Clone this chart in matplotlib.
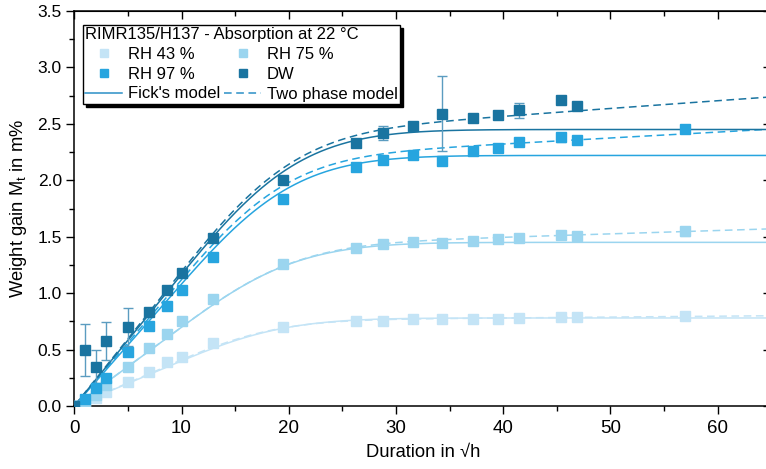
import numpy as np
import matplotlib
matplotlib.use("Agg")
import matplotlib.pyplot as plt
from matplotlib.ticker import MultipleLocator, FormatStrFormatter
from matplotlib.lines import Line2D

plt.rcParams['font.family'] = ['Liberation Sans', 'DejaVu Sans']
plt.rcParams['mathtext.fontset'] = 'custom'
plt.rcParams['mathtext.rm'] = 'Liberation Sans'
plt.rcParams['mathtext.it'] = 'Liberation Sans'

# Measurement times (square root of hours)
duration = [0, 1, 2, 3, 5, 7, 8.65, 10, 12.9, 19.5, 26.3, 28.8, 31.6, 34.3,
            37.2, 39.5, 41.5, 45.4, 46.9, 57.0]

labels = ["RH 43 %", "RH 75 %", "RH 97 %", "DW"]
colors = ["#c4e4f6", "#9bd5ef", "#27a5df", "#1a74a0"]
err_colors = ["#d2ebf8", "#b3def2", "#5fb9e4", "#5b9cc0"]

gain_rh43 = [0, 0.02, 0.07, 0.12, 0.215, 0.30, 0.39, 0.43, 0.555, 0.70, 0.75,
             0.755, 0.77, 0.77, 0.77, 0.775, 0.78, 0.79, 0.785, 0.80]
gain_rh75 = [0, 0.03, 0.10, 0.19, 0.35, 0.51, 0.64, 0.75, 0.95, 1.26, 1.40,
             1.435, 1.455, 1.44, 1.465, 1.48, 1.49, 1.515, 1.51, 1.55]
gain_rh97 = [0, 0.06, 0.16, 0.25, 0.48, 0.71, 0.885, 1.03, 1.32, 1.83, 2.12,
             2.18, 2.22, 2.17, 2.26, 2.29, 2.34, 2.38, 2.36, 2.45]
gain_dw = [0, 0.50, 0.35, 0.575, 0.70, 0.83, 1.03, 1.18, 1.49, 2.00, 2.33,
           2.42, 2.48, 2.59, 2.55, 2.58, 2.62, 2.71, 2.66, np.nan]

err_rh43 = [0, 0.01, 0.01, 0.01, 0.01, 0.01, 0.01, 0.01, 0.01, 0.01, 0.01,
            0.01, 0.01, 0.01, 0.01, 0.01, 0.01, 0.01, 0.01, 0.01]
err_rh75 = [0, 0.02, 0.02, 0.02, 0.02, 0.02, 0.02, 0.02, 0.02, 0.02, 0.03,
            0.03, 0.02, 0.03, 0.03, 0.02, 0.03, 0.03, 0.03, 0.04]
err_rh97 = [0, 0.02, 0.02, 0.02, 0.02, 0.02, 0.02, 0.02, 0.02, 0.02, 0.02,
            0.02, 0.02, 0.02, 0.02, 0.02, 0.02, 0.04, 0.02, 0.02]
err_dw = [0, 0.23, 0.15, 0.17, 0.17, 0.02, 0.02, 0.03, 0.02, 0.02, 0.02,
          0.06, 0.02, 0.33, 0.02, 0.02, 0.065, 0.02, 0.02, 0]

gains = [gain_rh43, gain_rh75, gain_rh97, gain_dw]
errors = [err_rh43, err_rh75, err_rh97, err_dw]

# Fick's model: saturation uptake and rate constant (pi^2 D / h^2, per h)
fick_minf = [0.78, 1.45, 2.22, 2.45]
fick_k = [0.0051, 0.0045, 0.0046, 0.0044]

# Two phase model: fast Fickian phase plus slow second phase
tp_m1 = [0.748, 1.375, 2.11, 2.29]
tp_k1 = [0.0056, 0.0046, 0.00496, 0.00466]
tp_m2 = [0.10, 0.35, 0.60, 0.78]
tp_k2 = [0.000123, 0.000143, 0.000151, 0.000153]


def fick_fraction(kt, terms=200):
    n = np.arange(terms)[:, None]
    odd = 2 * n + 1
    s = np.sum(np.exp(-odd ** 2 * kt[None, :]) / odd ** 2, axis=0)
    return 1 - 8 / np.pi ** 2 * s


fig = plt.figure(figsize=(7.66, 4.69), dpi=100)
ax = fig.add_axes([74.3 / 766, 63 / 469, 696.8 / 766, 395 / 469])

xs = np.linspace(0, 66, 600)
t = xs ** 2
for i in range(4):
    c = colors[i]
    fick = fick_minf[i] * fick_fraction(fick_k[i] * t)
    two = tp_m1[i] * fick_fraction(tp_k1[i] * t) + tp_m2[i] * fick_fraction(tp_k2[i] * t)
    ax.plot(xs, fick, color=c, lw=1.1, zorder=2)
    ax.plot(xs, two, color=c, lw=1.1, ls=(0, (5, 3)), zorder=2)

for i in range(4):
    c = colors[i]
    ax.errorbar(duration, gains[i], yerr=errors[i], fmt='s', ms=6.6,
                color=c, mec=c, ecolor=err_colors[i], elinewidth=1.0,
                capsize=3.5, capthick=1.0, zorder=3)

ax.set_xlim(0, 65)
ax.set_ylim(0, 3.5)
ax.xaxis.set_major_locator(MultipleLocator(10))
ax.xaxis.set_minor_locator(MultipleLocator(5))
ax.yaxis.set_major_locator(MultipleLocator(0.5))
ax.yaxis.set_minor_locator(MultipleLocator(0.25))
ax.yaxis.set_major_formatter(FormatStrFormatter('%.1f'))

ax.tick_params(which='both', direction='out', width=1.0, colors='black')
ax.tick_params(axis='x', labelsize=13.5, pad=4)
ax.tick_params(axis='y', labelsize=12.5, pad=3)
ax.tick_params(which='major', length=6)
ax.tick_params(which='minor', length=3.5)
for sp in ax.spines.values():
    sp.set_linewidth(1.1)

# Inward ticks on the top and right frame
top = ax.secondary_xaxis('top')
top.xaxis.set_major_locator(MultipleLocator(10))
top.xaxis.set_minor_locator(MultipleLocator(5))
top.tick_params(which='both', direction='in', labeltop=False, width=1.0)
top.tick_params(which='major', length=6)
top.tick_params(which='minor', length=3.5)
right = ax.secondary_yaxis('right')
right.yaxis.set_major_locator(MultipleLocator(0.5))
right.yaxis.set_minor_locator(MultipleLocator(0.25))
right.tick_params(which='both', direction='in', labelright=False, width=1.0)
right.tick_params(which='major', length=6)
right.tick_params(which='minor', length=3.5)

ax.set_xlabel("Duration in \u221ah", fontsize=13.2, labelpad=5)
ax.set_ylabel("Weight gain M$_\\mathrm{t}$ in m%", fontsize=13.2, labelpad=6)

handles = [
    Line2D([], [], ls='none', marker='s', ms=6, color=colors[0]),
    Line2D([], [], ls='none', marker='s', ms=6, color=colors[2]),
    Line2D([], [], color="#2b8fc6", lw=1.1),
    Line2D([], [], ls='none', marker='s', ms=6, color=colors[1]),
    Line2D([], [], ls='none', marker='s', ms=6, color=colors[3]),
    Line2D([], [], color="#2b8fc6", lw=1.1, ls=(0, (5, 3))),
]
names = ["RH 43 %", "RH 97 %", "Fick's model", "RH 75 %", "DW", "Two phase model"]
leg = ax.legend(handles, names, ncol=2, loc='upper left',
                bbox_to_anchor=(8.5 / 696.8, 1 - 14 / 395),
                title="RIMR135/H137 - Absorption at 22 \u00b0C",
                fontsize=12, title_fontsize=12, alignment='left',
                fancybox=False, edgecolor='black', framealpha=1,
                shadow={'color': 'black', 'alpha': 1.0},
                borderpad=0.15, labelspacing=0.28, handlelength=2.2,
                handletextpad=0.35, columnspacing=0.25, borderaxespad=0)
leg.get_frame().set_linewidth(1.0)

fig.savefig("out.png", dpi=100)
